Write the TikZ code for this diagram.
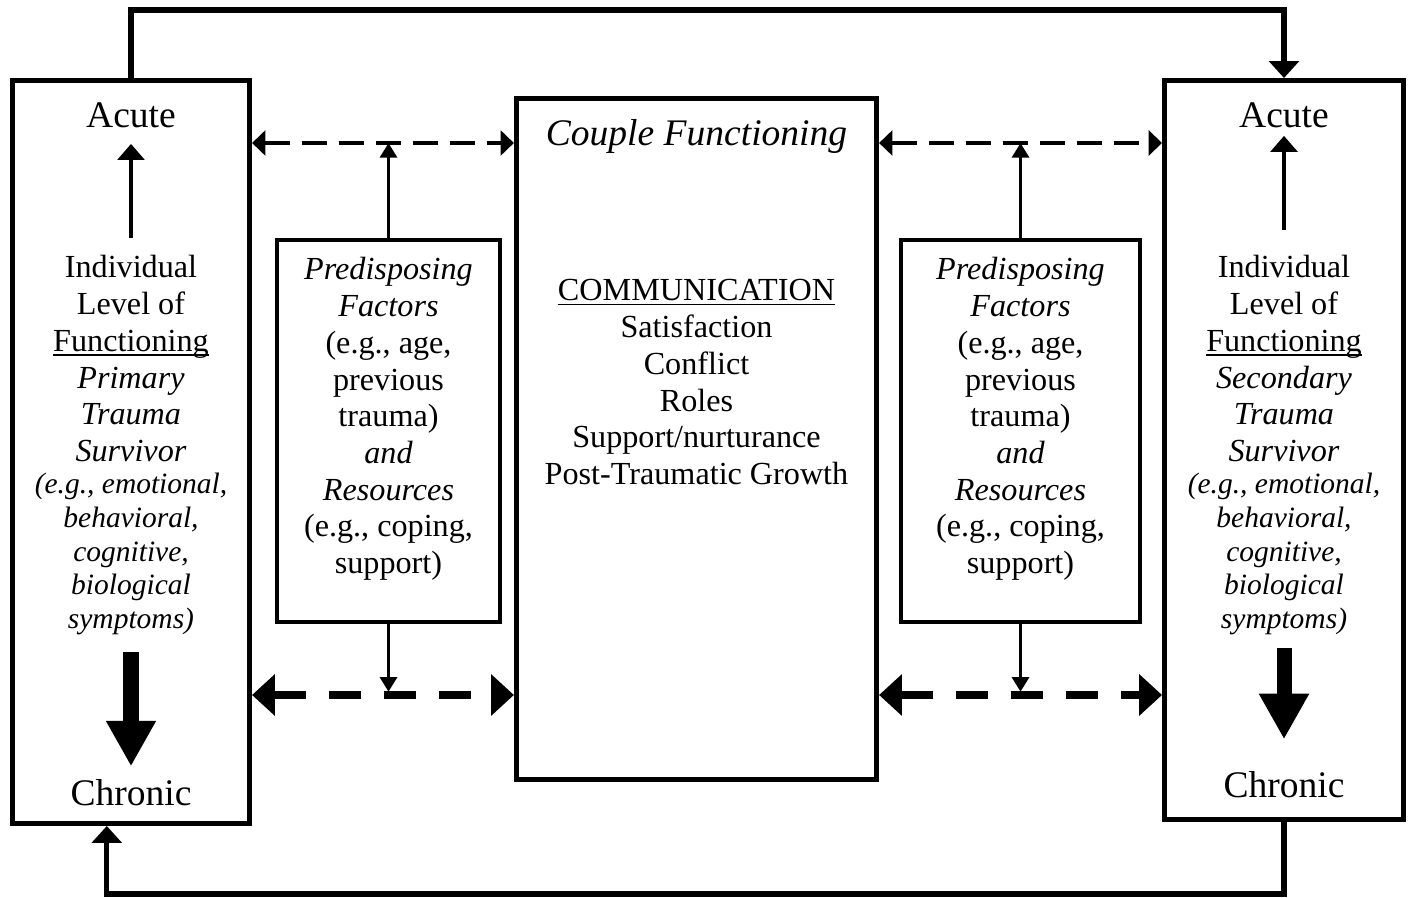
\documentclass[tikz,border=0pt]{standalone}
\usepackage{fontspec}
\setmainfont{Liberation Serif}
\usepackage{tikz}
\usetikzlibrary{arrows.meta,calc}
\newcommand\wordline[1]{\setbox0\hbox{#1}\rlap{\rule[-1.6pt]{\wd0}{0.55pt}}\box0}
\tikzset{fig/.style={line join=miter,>=Triangle},
  bigbox/.style={draw,line width=1.9pt,inner sep=0pt},
  prebox/.style={draw,line width=1.4pt,inner sep=0pt},
  lbl/.style={inner sep=0pt,align=center,font=\fontsize{12}{13.7}\selectfont},
  lblbig/.style={inner sep=0pt,font=\fontsize{14}{16}\selectfont},
  lblsm/.style={inner sep=0pt,align=center,font=\fontsize{11}{12.5}\selectfont\itshape},
  acutearrow/.style={line width=1.4pt,-{Triangle[length=6pt,width=10pt]}},
  prearrow/.style={line width=1.4pt,-{Triangle[length=5.5pt,width=6.3pt]}},
  bigarrow/.style={line width=5.6pt,-{Triangle[length=17pt,width=17.5pt]}},
  dashtop/.style={line width=1.4pt,dash pattern=on 9.3pt off 4.5pt,
    {Triangle[length=5pt,width=9.3pt]}-{Triangle[length=5pt,width=9.3pt]}},
  dashbot/.style={line width=3.2pt,dash pattern=on 12pt off 8.6pt,
    {Triangle[length=8.5pt,width=15pt]}-{Triangle[length=8.5pt,width=15pt]}},
  loopline/.style={line width=1.9pt,-{Triangle[length=6.3pt,width=11pt]}}}

\begin{document}
\begin{tikzpicture}[fig,x=0.373pt,y=-0.373pt]
  \useasboundingbox (0,0) rectangle (1413,898);
  % boxes
  \node[bigbox,minimum width=88.4pt,minimum height=277.1pt] (lbox) at (131,452) {};
  \node[bigbox,minimum width=89.1pt,minimum height=275.6pt] (rbox) at (1284,450) {};
  \node[bigbox,minimum width=134.3pt,minimum height=254pt] (cbox) at (696.5,439) {};
  \node[prebox,minimum width=83.2pt,minimum height=142.5pt] (lpre) at (388.5,431) {};
  \node[prebox,minimum width=89.1pt,minimum height=142.5pt] (rpre) at (1020.5,431) {};
  % primary survivor
  \node[lblbig,anchor=base] (lacute) at (131,128) {Acute};
  \node[lbl,anchor=north] (lind) at (131,255) {Individual\\Level of\\\wordline{Functioning}\\\textit{Primary}\\\textit{Trauma}\\\textit{Survivor}};
  \node[lblsm,anchor=north] (lsym) at (131,473) {(e.g., emotional,\\behavioral,\\cognitive,\\biological\\symptoms)};
  \node[lblbig,anchor=base] (lchron) at (131,805) {Chronic};
  % secondary survivor
  \node[lblbig,anchor=base] (racute) at (1284,128) {Acute};
  \node[lbl,anchor=north] (rind) at (1284,255) {Individual\\Level of\\\wordline{Functioning}\\\textit{Secondary}\\\textit{Trauma}\\\textit{Survivor}};
  \node[lblsm,anchor=north] (rsym) at (1284,473) {(e.g., emotional,\\behavioral,\\cognitive,\\biological\\symptoms)};
  \node[lblbig,anchor=base] (rchron) at (1284,797) {Chronic};
  % couple
  \node[lblbig,anchor=base,font=\fontsize{14}{16}\selectfont\itshape] (ctitle) at (696.5,146) {Couple Functioning};
  \node[lbl,anchor=north] (clist) at (696.5,279) {\wordline{COMMUNICATION}\\Satisfaction\\Conflict\\Roles\\Support/nurturance\\Post-Traumatic Growth};
  % predisposing factors
  \node[lbl,anchor=north] (lfac) at (388.5,257) {\textit{Predisposing}\\\textit{Factors}\\(e.g., age,\\previous\\trauma)\\\textit{and}\\\textit{Resources}\\(e.g., coping,\\support)};
  \node[lbl,anchor=north] (rfac) at (1020.5,257) {\textit{Predisposing}\\\textit{Factors}\\(e.g., age,\\previous\\trauma)\\\textit{and}\\\textit{Resources}\\(e.g., coping,\\support)};

  \coordinate (ltop) at (388.5,143);
  \coordinate (lbot) at (388.5,695);
  \coordinate (rtop) at (1020.5,143);
  \coordinate (rbot) at (1020.5,695);
  \coordinate (loopt) at (0,10);
  \coordinate (loopb) at (0,894);

  \draw[acutearrow,shorten <=6.3pt,shorten >=5.6pt] (lind.north) -- (lacute.south);
  \draw[acutearrow,shorten <=9.3pt,shorten >=2.6pt] (rind.north) -- (racute.south);
  \draw[bigarrow,shorten <=6.5pt,shorten >=4.5pt] (lsym.south) -- (lchron.north);
  \draw[bigarrow,shorten <=4.8pt,shorten >=11.6pt] (rsym.south) -- (rchron.north);

  \draw[dashtop] (lbox.east|-ltop) -- (cbox.west|-ltop);
  \draw[dashbot] (lbox.east|-lbot) -- (cbox.west|-lbot);
  \draw[dashtop] (cbox.east|-rtop) -- (rbox.west|-rtop);
  \draw[dashbot] (cbox.east|-rbot) -- (rbox.west|-rbot);
  \draw[prearrow] (lpre.north) -- (ltop);
  \draw[prearrow] (lpre.south) -- ([yshift=1.2pt]lbot);
  \draw[prearrow] (rpre.north) -- (rtop);
  \draw[prearrow] (rpre.south) -- ([yshift=1.2pt]rbot);

  \draw[loopline] (lbox.north) -- (lbox.north|-loopt) -| (rbox.north);
  \draw[loopline] (rbox.south) -- (rbox.south|-loopb) -| ($(lbox.south west)!0.4!(lbox.south east)$);
\end{tikzpicture}
\end{document}
